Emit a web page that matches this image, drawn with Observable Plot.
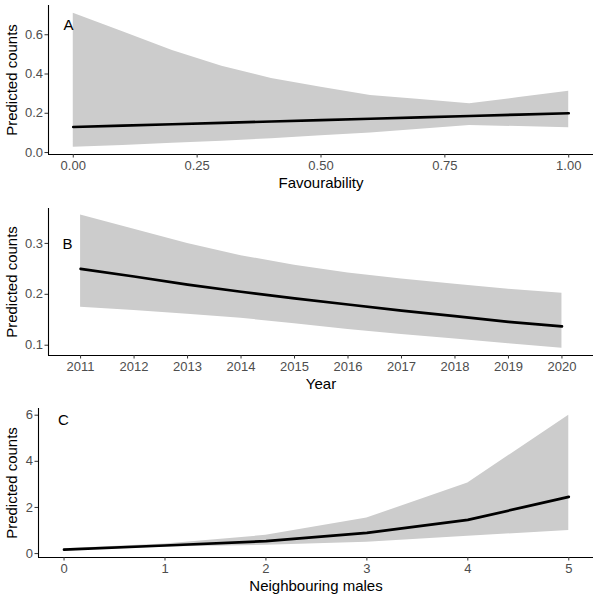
<!DOCTYPE html>
<html>
<head>
<meta charset="utf-8">
<script src="https://cdn.jsdelivr.net/npm/d3@7"></script>
<script src="https://cdn.jsdelivr.net/npm/@observablehq/plot@0.6"></script>
<style>
  html, body { margin: 0; padding: 0; background: #fff; }
  #chart svg { display: block; font-family: "Liberation Sans", Arial, sans-serif; }
  g[aria-label$="tick label"] text { fill: #4d4d4d; }
</style>
</head>
<body>
<div id="chart"></div>
<script>
// Panel A: Favourability
const favX    = [0, 0.1, 0.2, 0.3, 0.4, 0.5, 0.6, 0.7, 0.8, 0.9, 1.0];
const favFit  = [0.13, 0.137, 0.144, 0.151, 0.158, 0.165, 0.172, 0.179, 0.186, 0.193, 0.20];
const favLo   = [0.027, 0.036, 0.047, 0.058, 0.07, 0.085, 0.10, 0.119, 0.138, 0.132, 0.126];
const favHi   = [0.71, 0.615, 0.52, 0.44, 0.377, 0.333, 0.29, 0.27, 0.248, 0.28, 0.312];
const favTicksX = [0, 0.25, 0.5, 0.75, 1.0];
const favTicksY = [0, 0.2, 0.4, 0.6];

// Panel B: Year
const yearX   = [2011, 2012, 2013, 2014, 2015, 2016, 2017, 2018, 2019, 2020];
const yearFit = [0.25, 0.235, 0.219, 0.205, 0.192, 0.18, 0.168, 0.157, 0.146, 0.137];
const yearLo  = [0.1745, 0.168, 0.161, 0.153, 0.142, 0.131, 0.121, 0.112, 0.103, 0.094];
const yearHi  = [0.356, 0.328, 0.30, 0.276, 0.257, 0.242, 0.23, 0.22, 0.21, 0.202];
const yearTicksX = [2011, 2012, 2013, 2014, 2015, 2016, 2017, 2018, 2019, 2020];
const yearTicksY = [0.1, 0.2, 0.3];

// Panel C: Neighbouring males
const nbX   = [0, 1, 2, 3, 4, 5];
const nbFit = [0.17, 0.35, 0.54, 0.9, 1.46, 2.46];
const nbLo  = [0.13, 0.28, 0.36, 0.49, 0.75, 1.0];
const nbHi  = [0.21, 0.42, 0.79, 1.54, 3.06, 6.0];
const nbTicksX = [0, 1, 2, 3, 4, 5];
const nbTicksY = [0, 2, 4, 6];

const yLabel = "Predicted counts";

function panel(o) {
  const rows = o.x.map((x, i) => ({x, fit: o.fit[i], lo: o.lo[i], hi: o.hi[i]}));
  return Plot.plot({
    width: 599,
    height: o.height,
    marginLeft: o.ml,
    marginRight: 6,
    marginTop: o.mt,
    marginBottom: o.mb,
    style: {fontFamily: '"Liberation Sans", Arial, sans-serif', background: "#fff"},
    x: {domain: o.xDomain, label: null, axis: null},
    y: {domain: o.yDomain, label: null, axis: null},
    marks: [
      Plot.areaY(rows, {x: "x", y1: "lo", y2: "hi", fill: "#cccccc"}),
      Plot.lineY(rows, {x: "x", y: "fit", stroke: "#000", strokeWidth: 2.7}),
      Plot.ruleX([o.xDomain[0]], {stroke: "#000", strokeWidth: 1.1}),
      Plot.ruleY([o.yDomain[0]], {stroke: "#000", strokeWidth: 1.1}),
      Plot.axisX(o.xTicks, {tickSize: 3.5, tickPadding: 2.5, fontSize: 13, stroke: "#333", tickFormat: o.xFmt, label: null}),
      Plot.axisY(o.yTicks, {tickSize: 3.5, tickPadding: 2, fontSize: 13, stroke: "#333", tickFormat: o.yFmt, label: null}),
      Plot.text([yLabel], {frameAnchor: "left", rotate: -90, dx: -(o.ml - 12), fontSize: 15, fill: "#000", textAnchor: "middle", lineAnchor: "middle"}),
      Plot.text([o.xLabel], {frameAnchor: "bottom", dy: o.xLabelDy, fontSize: 15, fill: "#000", textAnchor: "middle", lineAnchor: "middle"}),
      Plot.text([o.tag], {frameAnchor: "top-left", dx: o.tagDx, dy: o.tagDy, fontSize: 15, fill: "#000", textAnchor: "middle", lineAnchor: "middle"})
    ]
  });
}

const chart = document.getElementById("chart");
chart.append(panel({
  x: favX, fit: favFit, lo: favLo, hi: favHi,
  xDomain: [-0.05, 1.05], yDomain: [-0.01, 0.749],
  xTicks: favTicksX, yTicks: favTicksY,
  xFmt: d3.format(".2f"), yFmt: d3.format(".1f"),
  height: 197, ml: 48, mt: 5, mb: 43,
  xLabel: "Favourability", xLabelDy: 29, tag: "A", tagDx: 20, tagDy: 20
}));
chart.append(panel({
  x: yearX, fit: yearFit, lo: yearLo, hi: yearHi,
  xDomain: [2010.4, 2020.59], yDomain: [0.0798, 0.3686],
  xTicks: yearTicksX, yTicks: yearTicksY,
  xFmt: d3.format("d"), yFmt: d3.format(".1f"),
  height: 197, ml: 48, mt: 11, mb: 39,
  xLabel: "Year", xLabelDy: 29, tag: "B", tagDx: 19, tagDy: 36
}));
chart.append(panel({
  x: nbX, fit: nbFit, lo: nbLo, hi: nbHi,
  xDomain: [-0.253, 5.245], yDomain: [-0.17, 6.29],
  xTicks: nbTicksX, yTicks: nbTicksY,
  xFmt: d3.format("d"), yFmt: d3.format("d"),
  height: 206, ml: 38, mt: 14, mb: 43,
  xLabel: "Neighbouring males", xLabelDy: 29, tag: "C", tagDx: 25, tagDy: 12
}));
</script>
</body>
</html>
